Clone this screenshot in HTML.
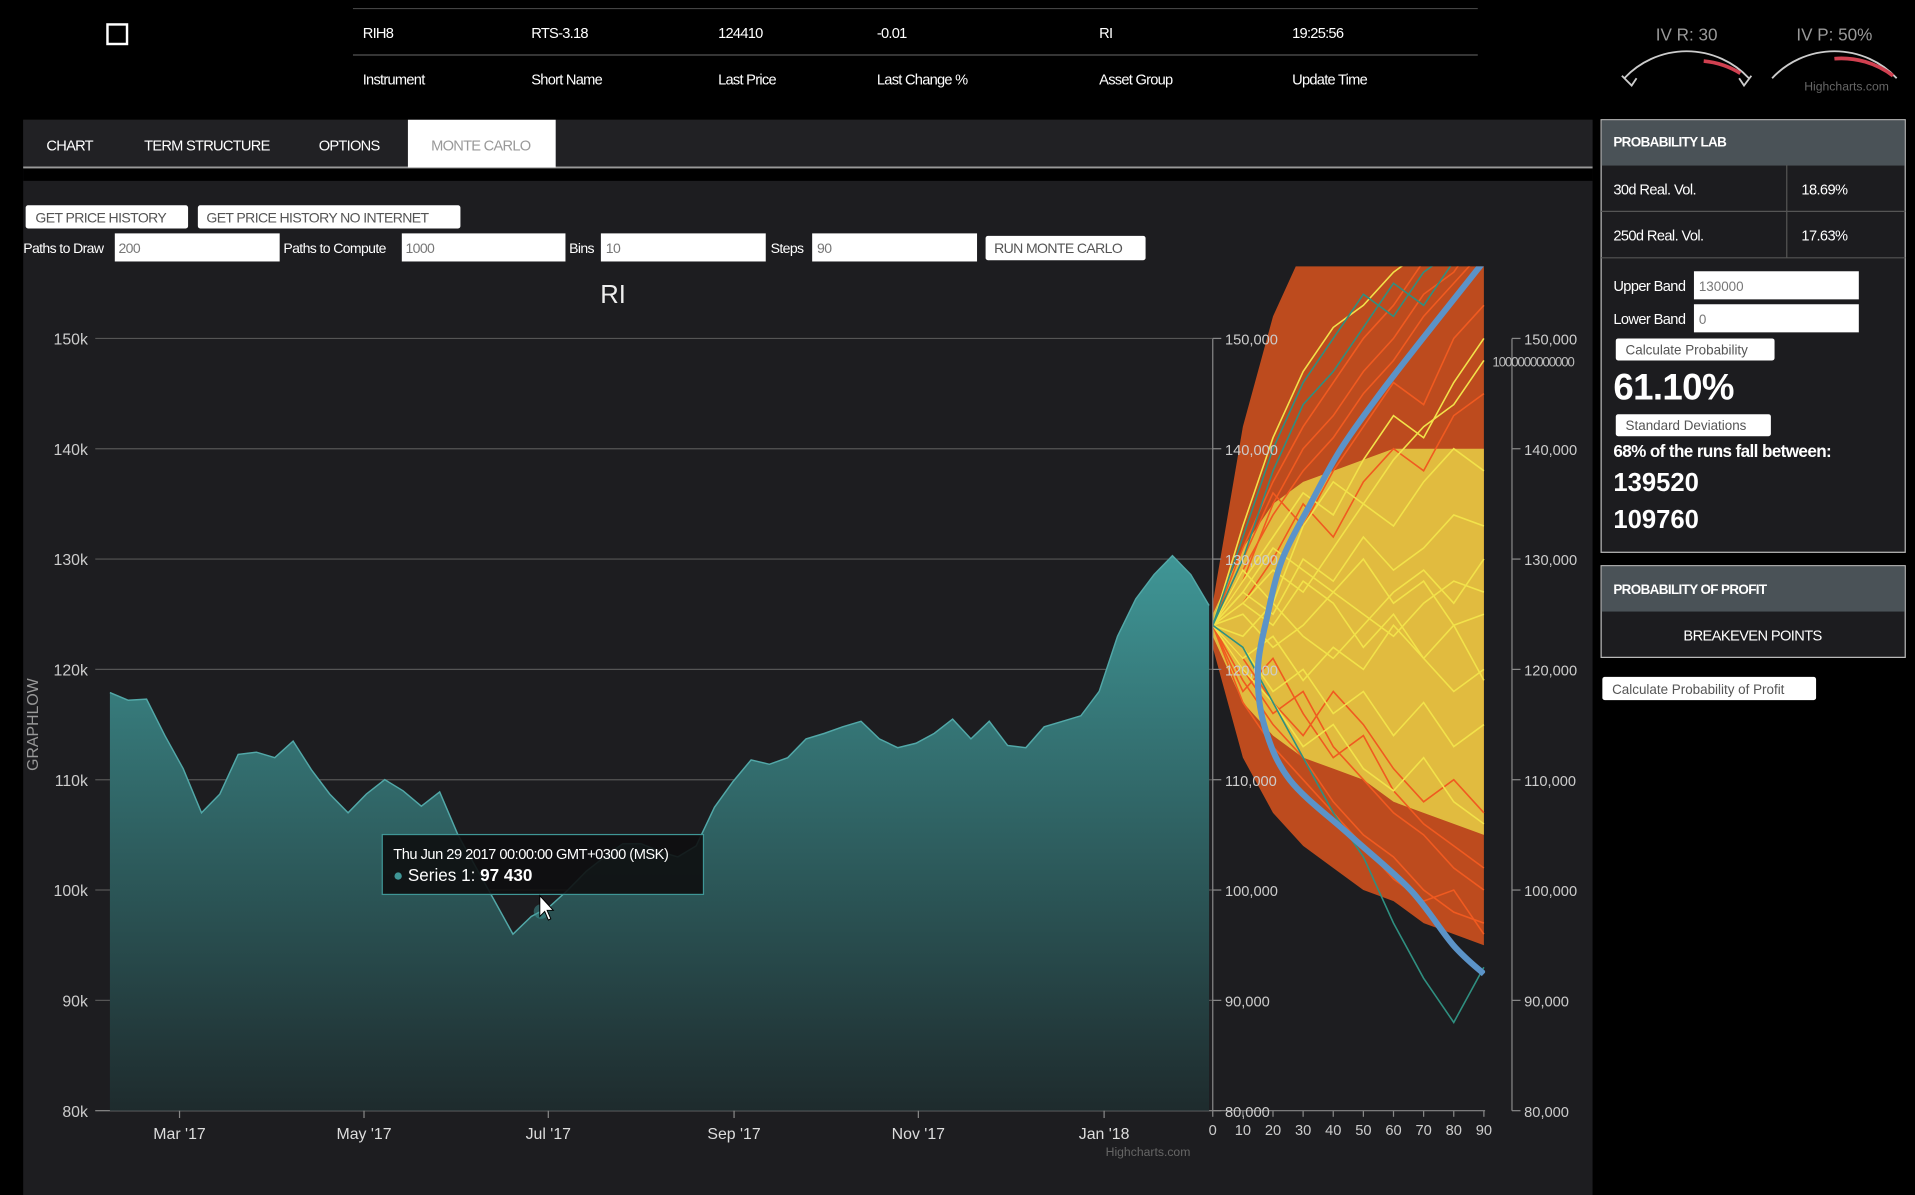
<!DOCTYPE html>
<html><head><meta charset="utf-8"><style>
html,body{margin:0;padding:0;background:#000;width:1915px;height:1195px;overflow:hidden}
svg{display:block;font-family:"Liberation Sans",sans-serif}
</style></head><body>
<svg id="s" width="1915" height="1195" viewBox="0 0 1568 978" preserveAspectRatio="none" xmlns="http://www.w3.org/2000/svg">
<rect width="1568" height="978" fill="#000"/>
<defs>
<linearGradient id="ag" x1="0" y1="0" x2="0" y2="1"><stop offset="0" stop-color="#3f9696"/><stop offset="1" stop-color="#1e2b2d"/></linearGradient>
<clipPath id="mcclip"><rect x="993" y="218" width="223" height="700"/></clipPath>
</defs>
<rect x="88" y="20" width="16" height="16" fill="none" stroke="#fff" stroke-width="2"/>
<line x1="289" y1="7" x2="1210" y2="7" stroke="#444"/>
<line x1="289" y1="45" x2="1210" y2="45" stroke="#555"/>
<g fill="#fff" font-size="12" letter-spacing="-0.6">
<text x="297" y="31">RIH8</text><text x="435" y="31">RTS-3.18</text><text x="588" y="31">124410</text><text x="718" y="31">-0.01</text><text x="900" y="31">RI</text><text x="1058" y="31">19:25:56</text>
<text x="297" y="69">Instrument</text><text x="435" y="69">Short Name</text><text x="588" y="69">Last Price</text><text x="718" y="69">Last Change %</text><text x="900" y="69">Asset Group</text><text x="1058" y="69">Update Time</text>
</g>
<g>
<text x="1381" y="33" fill="#999" font-size="14" text-anchor="middle">IV R: 30</text>
<path d="M1330,64 A70,70 0 0 1 1432,64" fill="none" stroke="#ccc" stroke-width="1.5"/>
<path d="M1395,50 A70,70 0 0 1 1425,60" fill="none" stroke="#d04050" stroke-width="3"/>
<path d="M1328,62 L1336,70 L1340,64 M1424,64 L1428,70 L1434,62" fill="none" stroke="#ccc" stroke-width="1.5"/>
</g>
<g>
<text x="1502" y="33" fill="#999" font-size="14" text-anchor="middle">IV P: 50%</text>
<path d="M1451,64 A70,70 0 0 1 1553,64" fill="none" stroke="#ccc" stroke-width="1.5"/>
<path d="M1502,48 A70,70 0 0 1 1550,62" fill="none" stroke="#d04050" stroke-width="3"/>
<text x="1512" y="74" fill="#666" font-size="10" text-anchor="middle">Highcharts.com</text>
</g>
<rect x="19" y="98" width="1285" height="880" fill="#1d1d20"/>
<rect x="19" y="98" width="1285" height="39" fill="#212124"/>
<rect x="19" y="138" width="1285" height="10" fill="#000"/>
<line x1="19" y1="137" x2="1304" y2="137" stroke="#999" stroke-width="1.5"/>
<g font-size="12" fill="#fff" letter-spacing="-0.6">
<text x="38" y="123">CHART</text>
<text x="118" y="123">TERM STRUCTURE</text>
<text x="261" y="123">OPTIONS</text>
<rect x="334" y="98" width="121" height="39" fill="#fff"/>
<text x="353" y="123" fill="#999">MONTE CARLO</text>
</g>
<g font-size="11.5" letter-spacing="-0.5">
<rect x="21" y="168" width="133" height="19" rx="2" fill="#fff"/>
<text x="29" y="182" fill="#555">GET PRICE HISTORY</text>
<rect x="162" y="168" width="215" height="19" rx="2" fill="#fff"/>
<text x="169" y="182" fill="#555">GET PRICE HISTORY NO INTERNET</text>
<text x="19" y="207" fill="#fff">Paths to Draw</text>
<rect x="94" y="191" width="135" height="23" fill="#fff"/><text x="97" y="207" fill="#777">200</text>
<text x="232" y="207" fill="#fff">Paths to Compute</text>
<rect x="329" y="191" width="134" height="23" fill="#fff"/><text x="332" y="207" fill="#777">1000</text>
<text x="466" y="207" fill="#fff">Bins</text>
<rect x="492" y="191" width="135" height="23" fill="#fff"/><text x="496" y="207" fill="#777">10</text>
<text x="631" y="207" fill="#fff">Steps</text>
<rect x="665" y="191" width="135" height="23" fill="#fff"/><text x="669" y="207" fill="#777">90</text>
<rect x="807" y="193" width="131" height="20" rx="2" fill="#fff"/><text x="814" y="207" fill="#555">RUN MONTE CARLO</text>
</g>
<text x="502" y="248" fill="#eee" font-size="21" text-anchor="middle">RI</text>
<g id="chart"></g>
<g>
<rect x="1311" y="98" width="249" height="354" fill="#1c1c1f" stroke="#bbb"/>
<rect x="1311.5" y="98.5" width="248" height="37" fill="#4a5257"/>
<text x="1321" y="120" fill="#fff" font-size="11" font-weight="bold" letter-spacing="-0.5">PROBABILITY LAB</text>
<line x1="1311" y1="173" x2="1560" y2="173" stroke="#555"/><line x1="1311" y1="211" x2="1560" y2="211" stroke="#555"/>
<line x1="1463" y1="135" x2="1463" y2="211" stroke="#555"/>
<g fill="#fff" font-size="12" letter-spacing="-0.5">
<text x="1321" y="159">30d Real. Vol.</text><text x="1475" y="159">18.69%</text>
<text x="1321" y="197">250d Real. Vol.</text><text x="1475" y="197">17.63%</text>
<text x="1321" y="238">Upper Band</text><text x="1321" y="265">Lower Band</text>
</g>
<rect x="1387" y="222" width="135" height="23" fill="#fff"/><text x="1391" y="238" fill="#777" font-size="11">130000</text>
<rect x="1387" y="249" width="135" height="23" fill="#fff"/><text x="1391" y="265" fill="#777" font-size="11">0</text>
<rect x="1323" y="277" width="130" height="18" rx="2" fill="#fff"/><text x="1331" y="290" fill="#555" font-size="11">Calculate Probability</text>
<text x="1321" y="327" fill="#fff" font-size="30" font-weight="bold" letter-spacing="-0.5">61.10%</text>
<rect x="1323" y="339" width="127" height="18" rx="2" fill="#fff"/><text x="1331" y="352" fill="#555" font-size="11">Standard Deviations</text>
<text x="1321" y="374" fill="#fff" font-size="14" font-weight="bold" letter-spacing="-0.5">68% of the runs fall between:</text>
<text x="1321" y="402" fill="#fff" font-size="21" font-weight="bold">139520</text>
<text x="1321" y="432" fill="#fff" font-size="21" font-weight="bold">109760</text>
</g>
<g>
<rect x="1311" y="463" width="249" height="75" fill="#1c1c1f" stroke="#bbb"/>
<rect x="1311.5" y="463.5" width="248" height="37" fill="#4a5257"/>
<text x="1321" y="486" fill="#fff" font-size="11" font-weight="bold" letter-spacing="-0.5">PROBABILITY OF PROFIT</text>
<text x="1435" y="524" fill="#fff" font-size="12" text-anchor="middle" letter-spacing="-0.5">BREAKEVEN POINTS</text>
</g>
<rect x="1312" y="554" width="175" height="19" rx="2" fill="#fff"/><text x="1320" y="568" fill="#555" font-size="11">Calculate Probability of Profit</text>
</svg>
<script>
const priceValues=[117.9,117.2,117.3,114,111,107,108.7,112.3,112.5,112,113.5,110.9,108.7,107,108.7,110,109,107.6,108.9,105,102,99,96,97.6,98.5,100,101.7,103,104.2,104.2,103.5,103,104,107.5,109.8,111.8,111.4,112,113.7,114.2,114.8,115.3,113.7,112.9,113.3,114.2,115.5,113.7,115.3,113.1,112.9,114.8,115.3,115.8,118,123,126.4,128.6,130.3,128.6,125.8];
const leftTicks=[80,90,100,110,120,130,140,150];
const monthLabels=["Mar '17","May '17","Jul '17","Sep '17","Nov '17","Jan '18"];
const monthIdx=[3.8,13.87,23.93,34.07,44.13,54.27];
const stepTicks=[0,10,20,30,40,50,60,70,80,90];
const rightTicks=[80000,90000,100000,110000,120000,130000,140000,150000];
const mcSteps=[0,10,20,30,40,50,60,70,80,90];
const envUpper=[126,142,152,158,160,162,162,162,162,162];
const envLower=[122,112,107,104,102,100,99,97,96,95];
const coreUpper=[125,131,135,137,138,139,140,140,140,140];
const coreLower=[123,117,114,112,111,110,108,107,106,105];
const pathsYellow=[[124,127,125,130,128,132,129,131,134,133],[124,121,123,119,122,120,124,121,118,120],[124,126,129,127,131,135,133,137,140,138],[124,122,118,120,116,118,114,117,113,115],[124,125,122,124,127,125,123,126,128,127],[124,128,132,136,134,139,143,141,146,150],[124,120,117,113,115,111,109,112,108,106],[124,126,124,128,126,122,125,121,124,119],[124,123,126,123,121,124,127,129,126,130],[124,127,131,129,127,130,126,128,124,125],[124,133,141,147,151,153,156,158,160,161],[124,129,126,133,137,135,139,142,144,148]];
const pathsRed=[[124,129,134,138,141,145,148,152,155,158],[124,119,115,112,108,105,103,100,98,97],[124,128,135,140,143,147,150,154,156,160],[124,120,116,118,113,110,107,105,102,100],[124,130,136,133,138,142,146,144,150,153],[124,118,121,116,112,114,109,106,104,102],[124,126,130,135,132,137,140,138,143,145],[124,121,117,114,118,115,111,108,110,107],[124,131,137,142,146,150,153,157,160,162],[124,117,113,110,107,104,101,99,100,96]];
const pathsTeal=[[124,132,140,146,150,154,152,156,158,160],[124,122,117,112,107,103,97,92,88,93],[124,130,138,144,147,151,155,153,157,159]];
const binValues=[92.4,95,100,105,110,115,120,125,130,135,140,145,150,156.7];
const binFreq=[0,25,60,110,159,180,185,177,165,142,117,85,50,2];

const NS="http://www.w3.org/2000/svg";
const g=document.getElementById('chart');
function el(t,a,p){const e=document.createElementNS(NS,t);for(const k in a)e.setAttribute(k,a[k]);(p||g).appendChild(e);return e;}
function yv(v){return 909-(v-80)*9.029;}
function xp(i){return 90+i*(900/(priceValues.length-1));}
function xs(s){return 993+s*(222/90);}
function xf(f){return 1215-f;}
leftTicks.forEach(t=>{const l=el('line',{x1:78,x2:993,y1:yv(t),y2:yv(t),stroke:'#555'});


const tx=el('text',{x:72,y:yv(t)+5,fill:'#ccc','font-size':13,'text-anchor':'end'});tx.textContent=t+'k';

});
const yt=el('text',{x:31,y:593,fill:'#999','font-size':13,'text-anchor':'middle',transform:'rotate(-90 31 593)'});yt.textContent='GRAPHLOW';


el('line',{x1:78,x2:993,y1:909,y2:909,stroke:'#888'});
let d='M'+xp(0)+',909';priceValues.forEach((v,i)=>{d+=' L'+xp(i).toFixed(1)+','+yv(v).toFixed(1);});d+=' L'+xp(priceValues.length-1)+',909 Z';
const ar=el('path',{d:d,fill:'url(#ag)'});


let d2='';priceValues.forEach((v,i)=>{d2+=(i?' L':'M')+xp(i).toFixed(1)+','+yv(v).toFixed(1);});
const ln=el('path',{d:d2,fill:'none',stroke:'#52a8a8','stroke-width':1.2});


monthLabels.forEach((m,i)=>{const x=xp(monthIdx[i]);el('line',{x1:x,x2:x,y1:909,y2:915,stroke:'#888'});
const t=el('text',{x:x,y:932,fill:'#ddd','font-size':13,'text-anchor':'middle'});t.textContent=m;

});
const mc=el('g',{'clip-path':'url(#mcclip)'});


function poly(up,lo,fill,op){let s='';mcSteps.forEach((st,i)=>{s+=xs(st)+','+yv(up[i])+' ';});for(let i=mcSteps.length-1;i>=0;i--)s+=xs(mcSteps[i])+','+yv(lo[i])+' ';return el('polygon',{points:s,fill:fill,opacity:op},mc);}
poly(envUpper,envLower,'#d9541f',0.85);
poly(coreUpper,coreLower,'#e8cf45',0.85);
function path(arr,c,w){let s='';arr.forEach((v,i)=>{s+=xs(mcSteps[i])+','+yv(v)+' ';});const p=el('polyline',{points:s,fill:'none',stroke:c,'stroke-width':w},mc);

}
pathsRed.forEach(a=>path(a,'#f05a20',1.3));
pathsYellow.forEach(a=>path(a,'#f2e24a',1.3));
pathsTeal.forEach(a=>path(a,'#2f8f80',1.3));
el('line',{x1:993,x2:993,y1:277,y2:909,stroke:'#888'});
el('line',{x1:993,x2:1216,y1:909,y2:909,stroke:'#888'});
leftTicks.forEach(t=>{el('line',{x1:993,x2:1000,y1:yv(t),y2:yv(t),stroke:'#888'});const tx=el('text',{x:1003,y:yv(t)+5,fill:'#ccc','font-size':12});tx.textContent=(t*1000).toLocaleString('en-US');

});
stepTicks.forEach(s=>{el('line',{x1:xs(s),x2:xs(s),y1:909,y2:914,stroke:'#888'});const t=el('text',{x:xs(s),y:929,fill:'#ccc','font-size':12,'text-anchor':'middle'});t.textContent=s;

});
const hc=el('text',{x:940,y:946,fill:'#666','font-size':10,'text-anchor':'middle'});hc.textContent='Highcharts.com';
// smooth distribution curve (catmull-rom)
const pts=binValues.map((v,i)=>[xf(binFreq[i]),yv(v)]);
let dc='M'+pts[0][0]+','+pts[0][1];
for(let i=0;i<pts.length-1;i++){const p0=pts[Math.max(0,i-1)],p1=pts[i],p2=pts[i+1],p3=pts[Math.min(pts.length-1,i+2)];
dc+=' C'+(p1[0]+(p2[0]-p0[0])/6)+','+(p1[1]+(p2[1]-p0[1])/6)+' '+(p2[0]-(p3[0]-p1[0])/6)+','+(p2[1]-(p3[1]-p1[1])/6)+' '+p2[0]+','+p2[1];}
const dist=el('path',{d:dc,fill:'none',stroke:'#5b93c8','stroke-width':5,'stroke-linejoin':'round','clip-path':'url(#mcclip)'});


el('line',{x1:1238,x2:1238,y1:277,y2:909,stroke:'#888'});
rightTicks.forEach(t=>{const y=yv(t/1000);el('line',{x1:1238,x2:1245,y1:y,y2:y,stroke:'#888'});const tx=el('text',{x:1248,y:y+5,fill:'#ccc','font-size':12});tx.textContent=t.toLocaleString('en-US');

});
const hist=el('text',{x:1222,y:300,fill:'#bbb','font-size':11,'letter-spacing':'-1'});hist.textContent='1000000000000';
const tg=el('g',{});


el('rect',{x:313,y:683,width:263,height:49,fill:'#0e0e10',stroke:'#3f9696','fill-opacity':0.9},tg);
const t1=el('text',{x:322,y:703,fill:'#fff','font-size':12,'letter-spacing':'-0.4'},tg);t1.textContent='Thu Jun 29 2017 00:00:00 GMT+0300 (MSK)';
el('circle',{cx:326,cy:717,r:3,fill:'#3f9696'},tg);
const t2=el('text',{x:334,y:721,fill:'#fff','font-size':14},tg);t2.textContent='Series 1: ';
const t3=el('tspan',{'font-weight':'bold'},t2);t3.textContent='97 430';
el('circle',{cx:443,cy:746,r:6,fill:'#3f9696',opacity:0.5});
el('path',{d:'M442,733 L442,750 L446,746 L449,753 L451,752 L448,745 L453,745 Z',fill:'#fff',stroke:'#000','stroke-width':0.8});
</script>
</body></html>
